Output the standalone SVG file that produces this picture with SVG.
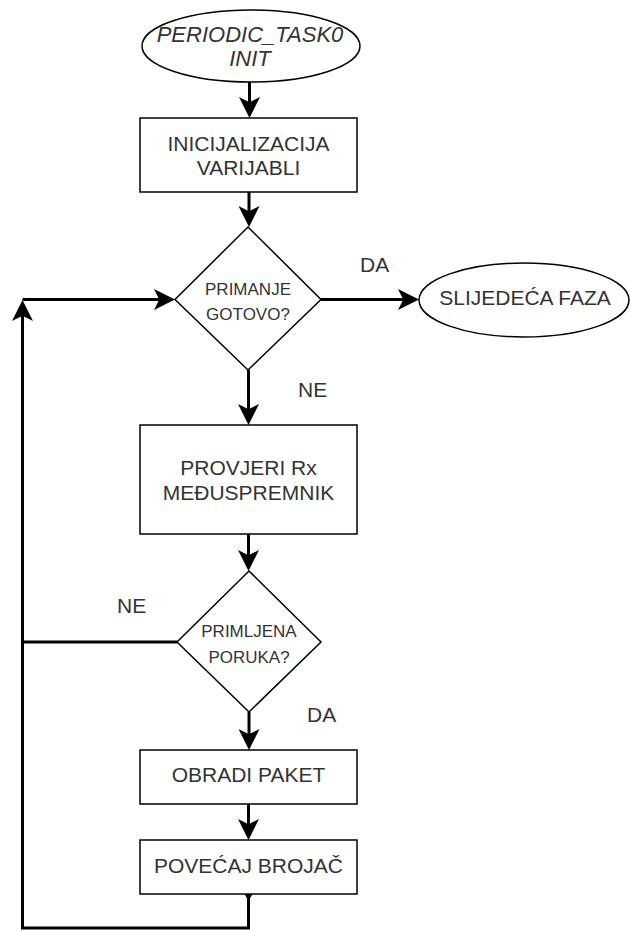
<svg xmlns="http://www.w3.org/2000/svg" width="631" height="931" viewBox="0 0 631 931">
<style>
.shape{fill:#ffffff;stroke:#000000;stroke-width:1.5}
.edge{fill:none;stroke:#000000;stroke-width:3}
.arr{stroke:none;fill:#000000}
text{font-family:"Liberation Sans",Arial,sans-serif;fill:#333333;text-anchor:middle}
.big{font-size:21px}
.title{font-size:22px;font-style:italic}
.small{font-size:17px}
.lbl{font-size:21px;text-anchor:start}
</style>
<defs>
<marker id="ah" markerUnits="userSpaceOnUse" markerWidth="21" markerHeight="21" viewBox="0 0 21 21" refX="15" refY="10.5" orient="auto">
<path d="M21,10.5 L0,0 L5.25,10.5 L0,21 Z" fill="#000000"/>
</marker>
</defs>
<rect width="631" height="931" fill="#ffffff"/>
<g id="connectors">
<path class="edge" d="M249.5,82 V112" marker-end="url(#ah)"/>
<path class="edge" d="M249,192 V221" marker-end="url(#ah)"/>
<path class="edge" d="M321,299.5 H413" marker-end="url(#ah)"/>
<path class="edge" d="M248.5,370 V419" marker-end="url(#ah)"/>
<path class="edge" d="M248.5,534 V565" marker-end="url(#ah)"/>
<path class="edge" d="M249,712 V744" marker-end="url(#ah)"/>
<path class="edge" d="M248.5,804 V834" marker-end="url(#ah)"/>
<path class="edge" d="M177,642 H22.5 V306" marker-end="url(#ah)"/>
<path class="edge" d="M22.5,299.5 H169" marker-end="url(#ah)"/>
<path class="edge" d="M248.5,894 V928 H22.5 V642"/>
<polygon class="arr" points="244.5,894 252.5,894 248.5,901"/>
<text class="lbl" x="360" y="272">DA</text>
<text class="lbl" x="298" y="397">NE</text>
<text class="lbl" x="117" y="613">NE</text>
<text class="lbl" x="307" y="722">DA</text>
</g>
<g id="start">
<ellipse class="shape" cx="251" cy="46" rx="109" ry="36"/>
<text class="title" x="250" y="42">PERIODIC_TASK0</text>
<text class="title" x="250" y="66">INIT</text>
</g>
<g id="init">
<rect class="shape" x="140" y="118" width="217" height="74"/>
<text class="big" x="248.5" y="151">INICIJALIZACIJA</text>
<text class="big" x="248.5" y="175">VARIJABLI</text>
</g>
<g id="decision1">
<polygon class="shape" points="248,227 321,299.5 248,370 175,299.5"/>
<text class="small" x="248" y="295">PRIMANJE</text>
<text class="small" x="248" y="320">GOTOVO?</text>
</g>
<g id="next">
<ellipse class="shape" cx="524" cy="300" rx="105" ry="37"/>
<text class="big" x="525" y="305">SLIJEDEĆA FAZA</text>
</g>
<g id="check">
<rect class="shape" x="140" y="425" width="217" height="109"/>
<text class="big" x="248.5" y="475">PROVJERI Rx</text>
<text class="big" x="248.5" y="500">MEĐUSPREMNIK</text>
</g>
<g id="decision2">
<polygon class="shape" points="249,571 321,642 249,712 177,642"/>
<text class="small" x="249" y="637">PRIMLJENA</text>
<text class="small" x="249" y="663">PORUKA?</text>
</g>
<g id="process">
<rect class="shape" x="140" y="750" width="217" height="54"/>
<text class="big" x="248.5" y="782">OBRADI PAKET</text>
</g>
<g id="increment">
<rect class="shape" x="140" y="840" width="217" height="54"/>
<text class="big" x="248.5" y="873">POVEĆAJ BROJAČ</text>
</g>
</svg>
